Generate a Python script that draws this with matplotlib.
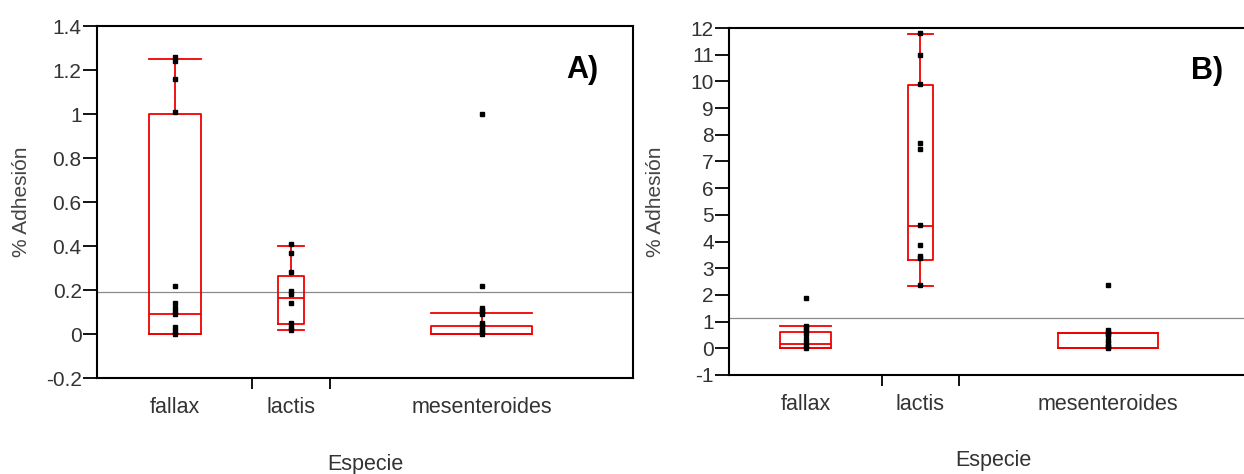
import numpy as np
import matplotlib
matplotlib.use('Agg')
import matplotlib.pyplot as plt

plt.rcParams['font.family'] = ['Liberation Sans', 'DejaVu Sans']

especies = ['fallax', 'lactis', 'mesenteroides']
# relative width of each group on the x axis (JMP style, by sample size)
group_span = [2.0, 1.0, 3.9]

# panel A data
a_points = [
    [1.26, 1.24, 1.16, 1.01, 0.22, 0.14, 0.12, 0.10, 0.09, 0.03, 0.015, 0.0],
    [0.41, 0.37, 0.28, 0.195, 0.18, 0.14, 0.05, 0.03, 0.02],
    [1.0, 0.22, 0.12, 0.11, 0.10, 0.09, 0.05, 0.04, 0.03, 0.02, 0.01, 0.0],
]
a_q1 = [0.0, 0.045, 0.0]
a_med = [0.09, 0.165, 0.0]
a_q3 = [1.0, 0.265, 0.036]
a_lo = [0.0, 0.02, 0.0]
a_hi = [1.25, 0.40, 0.094]
a_mean = 0.19
a_yticks = [-0.2, 0, 0.2, 0.4, 0.6, 0.8, 1, 1.2, 1.4]
a_yticklabels = ['-0.2', '0', '0.2', '0.4', '0.6', '0.8', '1', '1.2', '1.4']

# panel B data
b_points = [
    [1.9, 0.85, 0.75, 0.65, 0.55, 0.35, 0.2, 0.1, 0.02],
    [11.82, 10.97, 9.92, 7.68, 7.45, 4.61, 3.86, 3.46, 3.37, 2.37],
    [2.36, 0.7, 0.6, 0.55, 0.5, 0.3, 0.2, 0.1, 0.05, 0.0],
]
b_q1 = [0.0, 3.3, 0.0]
b_med = [0.15, 4.58, 0.0]
b_q3 = [0.6, 9.87, 0.58]
b_lo = [0.0, 2.35, 0.0]
b_hi = [0.82, 11.76, 0.58]
b_mean = 1.12
b_yticks = list(range(-1, 13))
b_yticklabels = [str(v) for v in b_yticks]


def draw_panel(ax, points, q1, med, q3, lo, hi, mean, yticks, yticklabels, ylim, tag):
    span = np.array(group_span)
    edges = np.concatenate([[0], np.cumsum(span)])
    centers = (edges[:-1] + edges[1:]) / 2
    widths = span / 3

    stats = []
    for i in range(len(especies)):
        stats.append(dict(med=med[i], q1=q1[i], q3=q3[i], whislo=lo[i], whishi=hi[i], fliers=[]))
    red = dict(color='#f00000', linewidth=1.3)
    ax.bxp(stats, positions=centers, widths=widths, capwidths=widths,
           boxprops=red, whiskerprops=red, capprops=red, medianprops=red,
           showfliers=False, manage_ticks=False, zorder=3)

    for i, pts in enumerate(points):
        ax.plot([centers[i]] * len(pts), pts, 's', color='black', markersize=2.6, zorder=4)

    ax.axhline(mean, color='#8a8a8a', linewidth=0.9, zorder=2)

    ax.set_xlim(edges[0], edges[-1])
    ax.set_ylim(*ylim)
    ax.set_yticks(yticks)
    ax.set_yticklabels(yticklabels)
    ax.set_xticks(edges[1:-1])
    ax.set_xticklabels([])
    ax.set_xticks(centers, minor=True)
    ax.set_xticklabels(especies, minor=True)
    ax.tick_params(axis='y', direction='out', length=10, width=1.3, pad=1,
                   labelsize=15, labelcolor='#333333')
    ax.tick_params(axis='x', which='major', direction='out', length=8, width=1.3)
    ax.tick_params(axis='x', which='minor', length=0, pad=14, labelsize=15.5, labelcolor='#333333')
    for s in ax.spines.values():
        s.set_linewidth(1.5)

    ax.set_ylabel('% Adhesión', fontsize=15, color='#444444', va='center')
    ax.yaxis.set_label_coords(-0.14, 0.5)
    ax.set_xlabel('Especie', fontsize=15.5, color='#333333', va='center')
    ax.xaxis.set_label_coords(0.5, -0.245)

    ax.text(0.905, 0.875, tag, transform=ax.transAxes, fontsize=22, fontweight='bold',
            ha='center', va='center')


fig = plt.figure(figsize=(12.44, 4.74), dpi=100)
ax_a = fig.add_axes([97 / 1244, 96 / 474, 536 / 1244, 352 / 474])
ax_b = fig.add_axes([729 / 1244, 99 / 474, 528 / 1244, 347 / 474])

draw_panel(ax_a, a_points, a_q1, a_med, a_q3, a_lo, a_hi, a_mean,
           a_yticks, a_yticklabels, (-0.2, 1.4), 'A)')
draw_panel(ax_b, b_points, b_q1, b_med, b_q3, b_lo, b_hi, b_mean,
           b_yticks, b_yticklabels, (-1, 12), 'B)')

fig.savefig('out.png', dpi=100)
